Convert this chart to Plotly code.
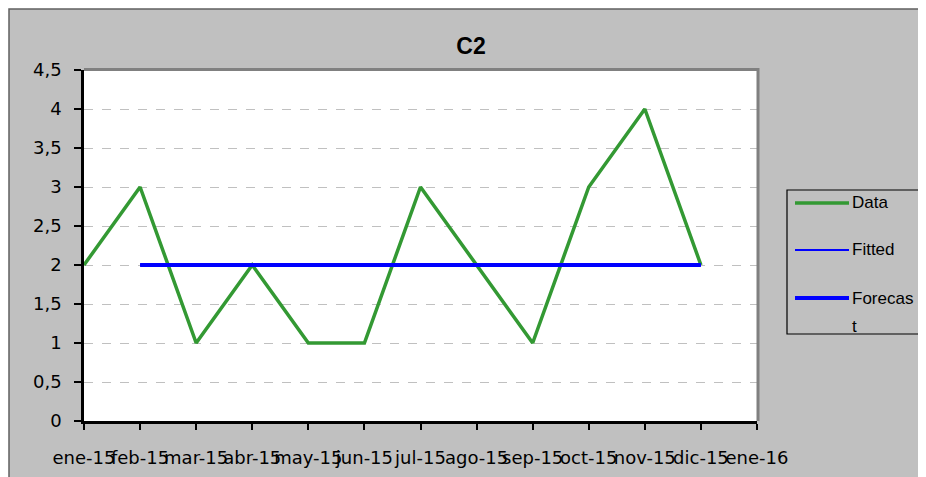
import plotly.graph_objects as go

months = ["ene-15", "feb-15", "mar-15", "abr-15", "may-15", "jun-15", "jul-15",
          "ago-15", "sep-15", "oct-15", "nov-15", "dic-15", "ene-16"]
data_vals = [2, 3, 1, 2, 1, 1, 3, 2, 1, 3, 4, 2]
fitted_months = months[1:12]
fitted_vals = [2] * 11
forecast_months = months[1:12]
forecast_vals = [2] * 11
y_ticks = [0, 0.5, 1, 1.5, 2, 2.5, 3, 3.5, 4, 4.5]
y_labels = ["0", "0,5", "1", "1,5", "2", "2,5", "3", "3,5", "4", "4,5"]

idx = {m: i for i, m in enumerate(months)}

GREEN = "#339933"
BLUE = "#0000FF"

fig = go.Figure()
fig.add_trace(go.Scatter(x=[idx[m] for m in months[:len(data_vals)]], y=data_vals,
                         mode="lines", name="Data",
                         line=dict(color=GREEN, width=3.5)))
fig.add_trace(go.Scatter(x=[idx[m] for m in fitted_months], y=fitted_vals,
                         mode="lines", name="Fitted",
                         line=dict(color=BLUE, width=2)))
fig.add_trace(go.Scatter(x=[idx[m] for m in forecast_months], y=forecast_vals,
                         mode="lines", name="Forecast",
                         line=dict(color=BLUE, width=4)))

# figure pixel coords (page has an 8px body margin)
L, R, T, B = 76, 749, 62, 413
W, H = 918, 469
def px(x):
    return (x - L) / (R - L)
def py(y):
    return (B - y) / (B - T)

shapes = [
    dict(type="rect", xref="paper", yref="paper", layer="below",
         x0=px(1), x1=px(960), y0=py(520), y1=py(1),
         fillcolor="#C0C0C0", line=dict(color="#606060", width=1.5)),
    dict(type="rect", xref="paper", yref="paper", layer="below",
         x0=0, x1=1, y0=0, y1=1, fillcolor="white", line=dict(width=0)),
    dict(type="line", xref="paper", yref="paper", x0=0, x1=px(R + 1.5), y0=py(T - 0.5), y1=py(T - 0.5),
         line=dict(color="#808080", width=3)),
    dict(type="line", xref="paper", yref="paper", x0=px(R + 1), x1=px(R + 1), y0=0, y1=py(T - 2),
         line=dict(color="#808080", width=3)),
    # legend box
    dict(type="rect", xref="paper", yref="paper",
         x0=px(779), x1=px(940), y0=py(326), y1=py(182),
         fillcolor="#C0C0C0", line=dict(color="black", width=1.2)),
]

legend_items = [("Data", GREEN, 3.5, 195), ("Fitted", BLUE, 2, 242), ("Forecast", BLUE, 4, 290)]
annotations = []
for name, col, wdt, yy in legend_items:
    shapes.append(dict(type="line", xref="paper", yref="paper",
                       x0=px(787), x1=px(841), y0=py(yy), y1=py(yy),
                       line=dict(color=col, width=wdt)))
    parts = [name] if name != "Forecast" else ["Forecas", "t"]
    for k, p in enumerate(parts):
        annotations.append(dict(text=p, xref="paper", yref="paper",
                                x=px(842), y=py(yy + 28 * k), xanchor="left", yanchor="middle",
                                showarrow=False,
                                font=dict(family="Liberation Sans, Arial, sans-serif",
                                          size=17, color="black")))

TICKFONT = dict(family="DejaVu Sans, sans-serif", size=18, color="black")

fig.update_layout(
    width=W, height=H,
    margin=dict(l=L, r=W - R, t=T, b=H - B, autoexpand=False),
    paper_bgcolor="white", plot_bgcolor="white",
    font=dict(family="Liberation Sans, Arial, sans-serif", size=18, color="black"),
    title=dict(text="<b>C2</b>", x=463 / W, xanchor="center", y=1 - 38 / H,
               yanchor="middle", font=dict(size=23)),
    shapes=shapes,
    annotations=annotations,
    showlegend=False,
    xaxis=dict(range=[0, 12], tickmode="array", tickvals=list(range(len(months))),
               ticktext=months, tickangle=0, showgrid=False, zeroline=False,
               showline=True, linecolor="black", linewidth=2.5, automargin=False,
               ticks="outside", ticklen=6, tickwidth=1.5, tickcolor="black",
               ticklabelstandoff=13, tickfont=TICKFONT),
    yaxis=dict(range=[0, 4.5], tickmode="array", tickvals=y_ticks, ticktext=y_labels,
               showgrid=True, gridcolor="#C0C0C0", griddash="dash", gridwidth=1,
               zeroline=False, showline=True, linecolor="black", linewidth=2.5,
               automargin=False,
               ticks="outside", ticklen=7, tickwidth=1.5, tickcolor="black",
               ticklabelstandoff=9, tickfont=TICKFONT),
)

fig.write_html("out.html")
